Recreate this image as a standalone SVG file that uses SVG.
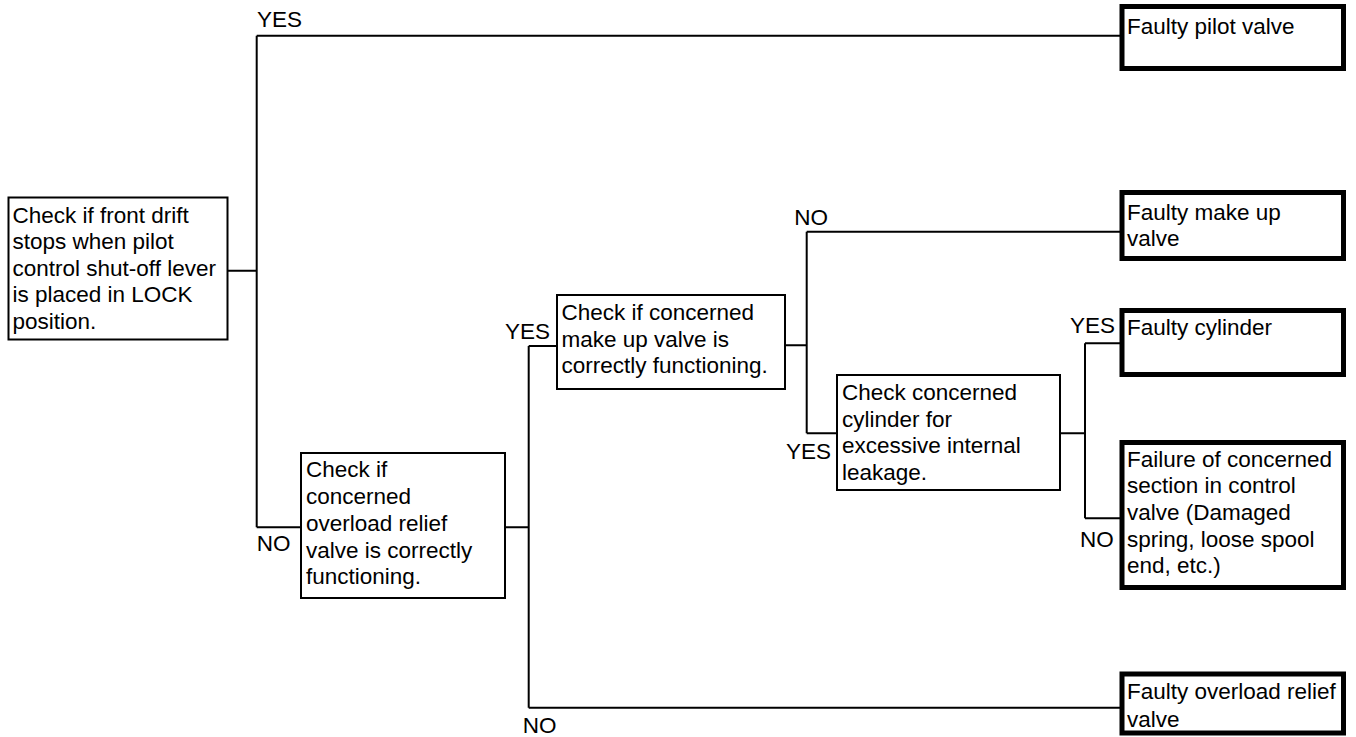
<svg xmlns="http://www.w3.org/2000/svg" width="1356" height="737" viewBox="0 0 1356 737">
<style>
text{font-family:"Liberation Sans",Arial,sans-serif;font-size:22.5px;fill:#000}
.q{fill:#fff;stroke:#000;stroke-width:2}
.r{fill:#fff;stroke:#000;stroke-width:5}
.c{fill:none;stroke:#000;stroke-width:2}
</style>
<rect width="1356" height="737" fill="#fff"/>
<g id="connectors">
<path class="c" d="M228 270.7H256.7M256.7 35.7V527.3M256.7 35.7H1120M256.7 527.3H301"/>
<path class="c" d="M505 527.3H528.7M528.7 346V707.7M528.7 346H557M528.7 707.7H1120"/>
<path class="c" d="M785 345.3H806.7M806.7 231.7V433.3M806.7 231.7H1120M806.7 433.3H837"/>
<path class="c" d="M1060 433.3H1085M1085 343.3V518.3M1085 343.3H1120M1085 518.3H1120"/>
<text x="257" y="26.7">YES</text>
<text x="256.7" y="550.7">NO</text>
<text x="505" y="339.3">YES</text>
<text x="522.7" y="733">NO</text>
<text x="794.3" y="225">NO</text>
<text x="786" y="459.3">YES</text>
<text x="1070" y="333.3">YES</text>
<text x="1080" y="546.7">NO</text>
</g>
<g id="q1">
<rect class="q" x="8.5" y="197.5" width="219" height="142"/>
<text x="12.5" y="222.5">Check if front drift</text>
<text x="12.5" y="249">stops when pilot</text>
<text x="12.5" y="275.5">control shut-off lever</text>
<text x="12.5" y="302">is placed in LOCK</text>
<text x="12.5" y="328.5">position.</text>
</g>
<g id="q2">
<rect class="q" x="301" y="453" width="204" height="145"/>
<text x="306" y="477">Check if</text>
<text x="306" y="504">concerned</text>
<text x="306" y="530.7">overload relief</text>
<text x="306" y="557.5">valve is correctly</text>
<text x="306" y="584">functioning.</text>
</g>
<g id="q3">
<rect class="q" x="557" y="295" width="228" height="94"/>
<text x="561.5" y="319.5">Check if concerned</text>
<text x="561.5" y="346.5">make up valve is</text>
<text x="561.5" y="373">correctly functioning.</text>
</g>
<g id="q4">
<rect class="q" x="837" y="375" width="223" height="115"/>
<text x="842" y="400">Check concerned</text>
<text x="842" y="426.5">cylinder for</text>
<text x="842" y="453">excessive internal</text>
<text x="842" y="479.5">leakage.</text>
</g>
<g id="r1">
<rect class="r" x="1122" y="6.5" width="221.5" height="62"/>
<text x="1127" y="33.5">Faulty pilot valve</text>
</g>
<g id="r2">
<rect class="r" x="1122" y="192.5" width="221.5" height="66"/>
<text x="1127" y="219.5">Faulty make up</text>
<text x="1127" y="246">valve</text>
</g>
<g id="r3">
<rect class="r" x="1122" y="310.5" width="221.5" height="64"/>
<text x="1127" y="335">Faulty cylinder</text>
</g>
<g id="r4">
<rect class="r" x="1122" y="442.5" width="221.5" height="145"/>
<text x="1127" y="466.7">Failure of concerned</text>
<text x="1127" y="493.3">section in control</text>
<text x="1127" y="520">valve (Damaged</text>
<text x="1127" y="546.7">spring, loose spool</text>
<text x="1127" y="573.3">end, etc.)</text>
</g>
<g id="r5">
<rect class="r" x="1122" y="674" width="221.5" height="59"/>
<text x="1127" y="698.5">Faulty overload relief</text>
<text x="1127" y="726.5">valve</text>
</g>
</svg>
